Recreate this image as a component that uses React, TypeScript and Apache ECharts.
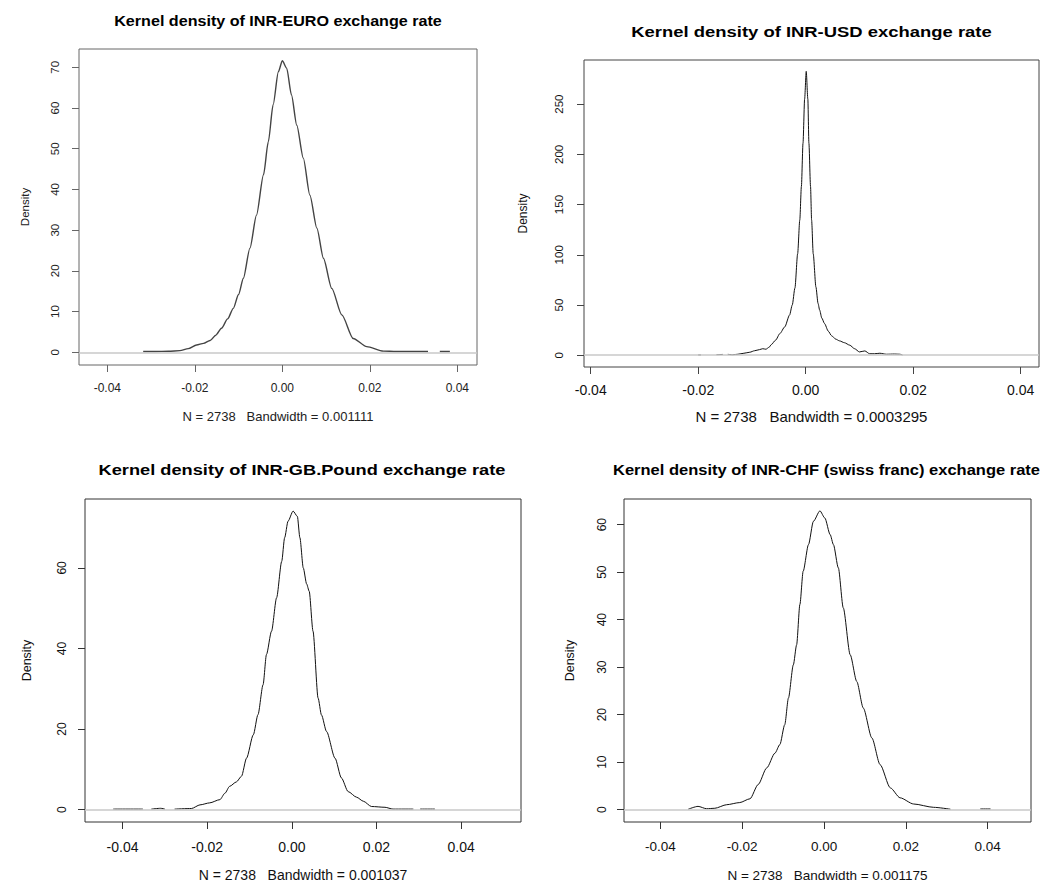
import React, { useEffect, useRef } from "react";
import * as echarts from "echarts";

// ---------- DATA ----------
const X_TICKS = [-0.04, -0.02, 0, 0.02, 0.04];
const EURO_Y_TICKS = [0, 10, 20, 30, 40, 50, 60, 70];
const USD_Y_TICKS = [0, 50, 100, 150, 200, 250];
const GBP_Y_TICKS = [0, 20, 40, 60];
const CHF_Y_TICKS = [0, 10, 20, 30, 40, 50, 60];

const TITLES = [
  "Kernel density of INR-EURO exchange rate",
  "Kernel density of INR-USD exchange rate",
  "Kernel density of INR-GB.Pound exchange rate",
  "Kernel density of INR-CHF (swiss franc) exchange rate",
];
const X_NAMES = [
  "N = 2738   Bandwidth = 0.001111",
  "N = 2738   Bandwidth = 0.0003295",
  "N = 2738   Bandwidth = 0.001037",
  "N = 2738   Bandwidth = 0.001175",
];
const Y_NAME = "Density";

const EURO_X = [-0.0318, -0.029, -0.026, -0.0234, -0.0215, -0.0196, -0.018, -0.0165, -0.0152, -0.0139, -0.0125, -0.0112, -0.01, -0.0089, -0.0074, -0.0059, -0.0043, -0.0032, -0.0021, -0.0009, 0.0, 0.001, 0.0021, 0.0033, 0.0048, 0.0063, 0.0079, 0.0094, 0.0113, 0.0136, 0.0162, 0.0193, 0.0231, 0.026, 0.03, 0.0333, 0.0347, 0.036, 0.0383];
const EURO_Y = [0.2, 0.2, 0.25, 0.4, 0.9, 1.8, 2.2, 2.9, 4.2, 5.9, 8.2, 10.8, 14.2, 18.2, 25.6, 33.7, 43.6, 51.7, 60.8, 68.9, 71.6, 69.8, 63.2, 55.8, 47.7, 38.6, 30.5, 23.1, 15.7, 9.2, 3.4, 1.4, 0.3, 0.2, 0.2, 0.2, null, 0.2, 0.2];

const USD_X = [-0.02, -0.0195, -0.018, -0.0166, -0.0154, -0.015, -0.0145, -0.0136, -0.0126, -0.0115, -0.0104, -0.0095, -0.0086, -0.008, -0.0074, -0.0068, -0.0064, -0.0056, -0.0048, -0.0039, -0.003, -0.0025, -0.002, -0.0015, -0.0011, -0.0008, -0.0005, -0.0002, 0.0001, 0.0004, 0.0006, 0.0009, 0.0011, 0.0014, 0.0019, 0.0023, 0.0026, 0.003, 0.0035, 0.0042, 0.0048, 0.0056, 0.0063, 0.0072, 0.0082, 0.0091, 0.01, 0.011, 0.0119, 0.0128, 0.0138, 0.015, 0.0165, 0.0175, 0.018];
const USD_Y = [0.3, 0.3, null, 0.6, 0.8, null, 0.9, 0.5, 1.0, 2.0, 3.0, 4.5, 5.6, 6.5, 6.0, 8.0, 10.6, 15.0, 21.6, 28.2, 40, 50, 67, 101, 134.6, 168, 211, 255, 282.6, 255, 211, 168, 134.6, 101, 68, 51.6, 44.9, 37, 31.6, 24, 19.5, 16, 14.3, 12.5, 10, 6.5, 3.3, 4.3, 1.5, 1.5, 2.0, 1.0, 1.2, 1.0, 0.3];

const GBP_X = [-0.0422, -0.0352, -0.034, -0.0332, -0.031, -0.03, -0.029, -0.0277, -0.0237, -0.0217, -0.0194, -0.017, -0.0158, -0.0147, -0.0131, -0.0119, -0.0107, -0.0091, -0.008, -0.0068, -0.006, -0.0048, -0.0036, -0.0024, -0.0017, -0.0009, 0.0003, 0.0013, 0.0019, 0.0027, 0.0035, 0.0041, 0.005, 0.0062, 0.007, 0.0082, 0.0102, 0.0117, 0.0133, 0.0153, 0.0169, 0.0188, 0.022, 0.0239, 0.0287, 0.0295, 0.0303, 0.0338];
const GBP_Y = [0.15, 0.15, null, 0.15, 0.35, 0.15, null, 0.15, 0.3, 1.2, 1.7, 2.5, 4.1, 5.8, 6.9, 8.3, 12.8, 18.6, 23.6, 31, 38.5, 44.3, 52.6, 61.6, 67.5, 71.6, 74.1, 72.8, 67.5, 60, 56, 54.2, 44.3, 27.7, 23.5, 19.4, 12.8, 7.9, 4.5, 3.1, 2.1, 0.8, 0.6, 0.15, 0.15, null, 0.15, 0.15];

const CHF_X = [-0.0332, -0.0308, -0.0287, -0.0267, -0.0238, -0.0206, -0.0181, -0.0161, -0.014, -0.012, -0.0108, -0.0096, -0.0087, -0.0075, -0.0067, -0.0059, -0.0051, -0.0038, -0.0026, -0.001, 0.0002, 0.0015, 0.0023, 0.0035, 0.0047, 0.0064, 0.008, 0.0096, 0.0117, 0.0137, 0.0162, 0.0186, 0.0219, 0.0268, 0.0309, 0.035, 0.0382, 0.0407];
const CHF_Y = [0.1, 0.7, 0.2, 0.3, 1.05, 1.5, 2.3, 5.3, 8.8, 11.9, 13.7, 17.9, 23.5, 30.5, 34.7, 43.2, 50.2, 55.8, 60.7, 62.9, 61.4, 57.9, 55.8, 50.9, 42.5, 32.6, 27, 21.4, 15.1, 9.5, 4.6, 2.5, 1.2, 0.5, 0.1, null, 0.15, 0.15];

// ---------- LAYOUT / STYLE ----------
const FONT = "'Liberation Sans', Arial, Helvetica, sans-serif";

const PANELS = [
  {
    xs: EURO_X, ys: EURO_Y, yTicks: EURO_Y_TICKS,
    grid: { left: 79, top: 49, width: 398, height: 316 },
    xr: [-0.04647, 0.0445], yr: [-3.12, 74.5],
    frame: "#666", curve: "#444", curveW: 1.4, text: "#222",
    xLabFs: 12, xLabMargin: 17, yLabFs: 11.5, yLabMargin: 18,
    nameFs: 13, nameGap: 45, yNameFs: 11.5, yNameGap: 48,
    title: { x: 278, y: 21, fs: 15.5, sx: 1.04 },
  },
  {
    xs: USD_X, ys: USD_Y, yTicks: USD_Y_TICKS,
    grid: { left: 584, top: 60, width: 455, height: 307 },
    xr: [-0.04125, 0.04341], yr: [-11.7, 293.9],
    frame: "#444", curve: "#111", curveW: 1, text: "#111",
    xLabFs: 14, xLabMargin: 15.5, yLabFs: 11.5, yLabMargin: 19,
    nameFs: 15, nameGap: 42, yNameFs: 12, yNameGap: 55,
    title: { x: 811.5, y: 32, fs: 15.5, sx: 1.19 },
  },
  {
    xs: GBP_X, ys: GBP_Y, yTicks: GBP_Y_TICKS,
    grid: { left: 85, top: 499, width: 436, height: 323 },
    xr: [-0.04887, 0.05414], yr: [-3.05, 77.1],
    frame: "#333", curve: "#111", curveW: 1, text: "#111",
    xLabFs: 14, xLabMargin: 17.5, yLabFs: 12, yLabMargin: 17,
    nameFs: 14, nameGap: 46, yNameFs: 12.5, yNameGap: 51.5,
    title: { x: 302, y: 470, fs: 15.5, sx: 1.176 },
  },
  {
    xs: CHF_X, ys: CHF_Y, yTicks: CHF_Y_TICKS,
    grid: { left: 624, top: 499, width: 407, height: 323 },
    xr: [-0.0489, 0.0506], yr: [-2.59, 65.4],
    frame: "#333", curve: "#111", curveW: 1, text: "#111",
    xLabFs: 13.5, xLabMargin: 17.5, yLabFs: 12, yLabMargin: 16,
    nameFs: 13.5, nameGap: 46.5, yNameFs: 12.5, yNameGap: 48,
    title: { x: 826.5, y: 470, fs: 15.5, sx: 1.064 },
  },
];

export default function App() {
  const ref = useRef<HTMLDivElement>(null);

  useEffect(() => {
    if (!ref.current) return;
    const chart = echarts.init(ref.current, null, { renderer: "svg" });

    const grid = PANELS.map((p) => ({
      ...p.grid,
      show: true,
      borderColor: p.frame,
      borderWidth: 1,
      backgroundColor: "transparent",
      containLabel: false,
    }));

    const xAxis = PANELS.map((p, i) => ({
      type: "value",
      gridIndex: i,
      position: "bottom",
      min: p.xr[0],
      max: p.xr[1],
      axisLine: { show: false, onZero: false },
      splitLine: { show: false },
      axisTick: {
        show: true,
        length: 7,
        customValues: X_TICKS,
        lineStyle: { color: p.frame, width: 1 },
      },
      axisLabel: {
        customValues: X_TICKS,
        formatter: (v: number) => v.toFixed(2),
        margin: p.xLabMargin,
        fontSize: p.xLabFs,
        color: p.text,
        fontFamily: FONT,
      },
      name: X_NAMES[i],
      nameLocation: "middle",
      nameGap: p.nameGap,
      nameTextStyle: { fontSize: p.nameFs, color: p.text, fontFamily: FONT },
    }));

    const yAxis = PANELS.map((p, i) => ({
      type: "value",
      gridIndex: i,
      position: "left",
      min: p.yr[0],
      max: p.yr[1],
      axisLine: { show: false, onZero: false },
      splitLine: { show: false },
      axisTick: {
        show: true,
        length: 7,
        customValues: p.yTicks,
        lineStyle: { color: p.frame, width: 1 },
      },
      axisLabel: {
        customValues: p.yTicks,
        formatter: (v: number) => String(v),
        rotate: 90,
        margin: p.yLabMargin,
        fontSize: p.yLabFs,
        color: p.text,
        fontFamily: FONT,
      },
      name: Y_NAME,
      nameLocation: "middle",
      nameRotate: 90,
      nameGap: p.yNameGap,
      nameTextStyle: { fontSize: p.yNameFs, color: p.text, fontFamily: FONT },
    }));

    const series = PANELS.map((p, i) => ({
      type: "line",
      xAxisIndex: i,
      yAxisIndex: i,
      data: p.xs.map((x, k) => [x, p.ys[k] === null ? "-" : p.ys[k]]),
      showSymbol: false,
      symbol: "none",
      smooth: 0.25,
      smoothMonotone: "x",
      connectNulls: false,
      lineStyle: { color: p.curve, width: p.curveW },
      silent: true,
      markLine: {
        silent: true,
        symbol: ["none", "none"],
        label: { show: false },
        lineStyle: { color: "#c8c8c8", type: "solid", width: 1.5 },
        data: [{ yAxis: 0 }],
      },
    }));

    const graphic = PANELS.map((p, i) => ({
      type: "text",
      x: p.title.x,
      y: p.title.y,
      scaleX: p.title.sx,
      style: {
        text: TITLES[i],
        fontSize: p.title.fs,
        fontWeight: "bold",
        fontFamily: FONT,
        fill: "#000",
        align: "center",
        verticalAlign: "middle",
        textAlign: "center",
        textVerticalAlign: "middle",
      },
    }));

    chart.setOption({
      animation: false,
      backgroundColor: "#ffffff",
      grid,
      xAxis,
      yAxis,
      series,
      graphic,
    });

    return () => chart.dispose();
  }, []);

  return (
    <div
      ref={ref}
      style={{ position: "fixed", left: 0, top: 0, width: 1043, height: 885, background: "#fff" }}
    />
  );
}
